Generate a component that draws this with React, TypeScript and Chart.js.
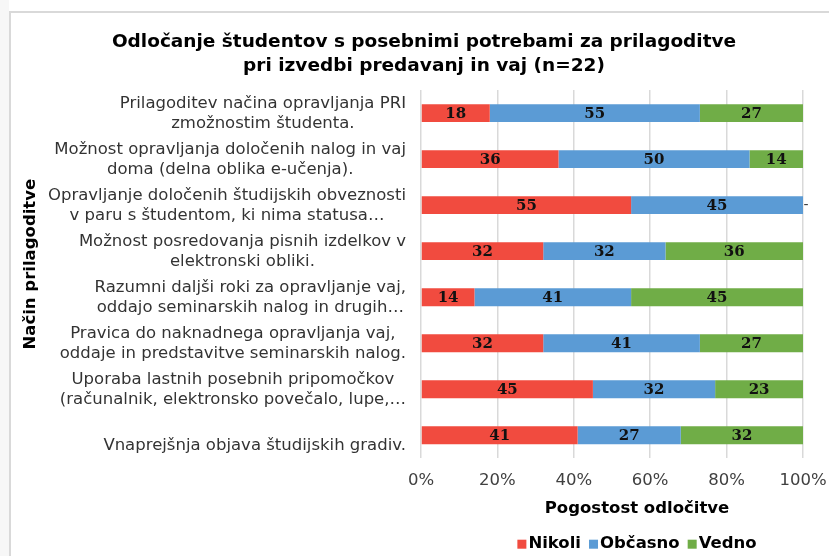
import React, { useEffect, useRef } from "react";
import { Chart, registerables } from "chart.js";

Chart.register(...registerables);

// ---------- data ----------
const titleLines = [
  "Odločanje študentov s posebnimi potrebami za prilagoditve",
  "pri izvedbi predavanj in vaj (n=22)",
];
const categories: string[][] = [
  ["Prilagoditev načina opravljanja PRI", "zmožnostim študenta."],
  ["Možnost opravljanja določenih nalog in vaj", "doma (delna oblika e-učenja)."],
  ["Opravljanje določenih študijskih obveznosti", "v paru s študentom, ki nima statusa…"],
  ["Možnost posredovanja pisnih izdelkov v", "elektronski obliki."],
  ["Razumni daljši roki za opravljanje vaj,", "oddajo seminarskih nalog in drugih…"],
  ["Pravica do naknadnega opravljanja vaj,", "oddaje in predstavitve seminarskih nalog."],
  ["Uporaba lastnih posebnih pripomočkov", "(računalnik, elektronsko povečalo, lupe,…"],
  ["", "Vnaprejšnja objava študijskih gradiv."],
];
const nikoli = [18, 36, 55, 32, 14, 32, 45, 41];
const obcasno = [55, 50, 45, 32, 41, 41, 32, 27];
const vedno = [27, 14, 0, 36, 45, 27, 23, 32];
const seriesNames = ["Nikoli", "Občasno", "Vedno"];
const seriesColors = ["#F14B3F", "#5B9BD5", "#70AD47"];
const xTickValues = [0, 20, 40, 60, 80, 100];
const xAxisTitle = "Pogostost odločitve";
const yAxisTitle = "Način prilagoditve";

const FONT = "'DejaVu Sans', Verdana, sans-serif";
const SERIF = "'DejaVu Serif', 'Liberation Serif', serif";

const customPlugin = {
  id: "customDraw",
  afterDraw(chart: any) {
    const ctx = chart.ctx as CanvasRenderingContext2D;
    const area = chart.chartArea;
    const yScale = chart.scales.y;
    ctx.save();

    // category labels (each block right-aligned, lines centred within the block)
    ctx.font = `16.5px ${FONT}`;
    ctx.fillStyle = "#333333";
    ctx.textBaseline = "middle";
    ctx.textAlign = "center";
    const rightEdge = area.left - 15;
    categories.forEach((lines, i) => {
      const cy = yScale.getPixelForValue(i) + 1;
      const w = Math.max(...lines.map((l) => ctx.measureText(l).width));
      const cx = rightEdge - w / 2;
      const lh = 20;
      lines.forEach((l, j) => {
        ctx.fillText(l, cx, cy + (j - (lines.length - 1) / 2) * lh);
      });
    });

    // data labels
    chart.data.datasets.forEach((ds: any, d: number) => {
      const meta = chart.getDatasetMeta(d);
      meta.data.forEach((el: any, i: number) => {
        const v = ds.data[i];
        const cx = (el.x + el.base) / 2;
        if (v === 0) {
          ctx.font = `14px ${FONT}`;
          ctx.fillStyle = "#404040";
          ctx.fillText("-", cx + 3, el.y);
        } else {
          ctx.font = `bold 15px ${SERIF}`;
          ctx.fillStyle = "#111111";
          ctx.fillText(String(v), cx, el.y + 1);
        }
      });
    });

    const midX = (area.left + area.right) / 2 + 25;

    // x axis title
    ctx.font = `bold 16.5px ${FONT}`;
    ctx.fillStyle = "#000";
    ctx.textAlign = "center";
    ctx.fillText(xAxisTitle, midX, area.bottom + 51);

    // y axis title
    ctx.save();
    ctx.translate(31, (area.top + area.bottom) / 2 - 10);
    ctx.rotate(-Math.PI / 2);
    ctx.fillText(yAxisTitle, 0, 0);
    ctx.restore();

    // legend
    ctx.font = `bold 16.5px ${FONT}`;
    const box = 9;
    const gap = 2;
    const itemGap = 8;
    const widths = seriesNames.map((n) => box + gap + ctx.measureText(n).width);
    const total = widths.reduce((a, b) => a + b, 0) + itemGap * (seriesNames.length - 1);
    let x = midX - total / 2;
    const ly = area.bottom + 85;
    ctx.textAlign = "left";
    seriesNames.forEach((n, i) => {
      ctx.fillStyle = seriesColors[i];
      ctx.fillRect(x, ly - box / 2 + 1, box, box);
      ctx.fillStyle = "#000";
      ctx.fillText(n, x + box + gap, ly + 1);
      x += widths[i] + itemGap;
    });

    ctx.restore();
  },
};

export default function App() {
  const ref = useRef<HTMLCanvasElement | null>(null);

  useEffect(() => {
    if (!ref.current) return;
    const chart = new Chart(ref.current, {
      type: "bar",
      data: {
        labels: categories.map((c) => c.join(" ")),
        datasets: [nikoli, obcasno, vedno].map((arr, i) => ({
          label: seriesNames[i],
          data: arr,
          backgroundColor: seriesColors[i],
          borderWidth: 0,
          barPercentage: 0.39,
          categoryPercentage: 1,
        })),
      },
      options: {
        indexAxis: "y",
        animation: false,
        responsive: false,
        maintainAspectRatio: false,
        layout: { padding: { left: 45, right: 26, top: 0, bottom: 52 } },
        plugins: {
          legend: { display: false },
          tooltip: { enabled: false },
          title: {
            display: true,
            text: titleLines,
            color: "#000",
            font: { family: FONT, size: 18.5, weight: "bold", lineHeight: 1.3 },
            padding: { top: 30, bottom: 12 },
          },
        },
        scales: {
          x: {
            stacked: true,
            min: 0,
            max: 100,
            afterBuildTicks: (scale: any) => {
              scale.ticks = xTickValues.map((v) => ({ value: v }));
            },
            afterFit: (scale: any) => {
              scale.paddingLeft = 0;
              scale.paddingRight = 0;
            },
            ticks: {
              callback: (v: any) => `${v}%`,
              color: "#404040",
              font: { family: FONT, size: 16.5 },
              padding: 13,
              maxRotation: 0,
            },
            grid: { color: "#d9d9d9", lineWidth: 1.5, drawTicks: false },
            border: { display: false },
          },
          y: {
            stacked: true,
            afterFit: (scale: any) => {
              scale.width = 376;
            },
            ticks: { display: false },
            grid: { display: false },
            border: { display: false },
          },
        },
      },
      plugins: [customPlugin],
    } as any);
    return () => chart.destroy();
  }, []);

  return (
    <div style={{ position: "absolute", left: 0, top: 0, width: 829, height: 556, background: "#fff", overflow: "hidden" }}>
      <div style={{ position: "absolute", left: 0, top: 0, width: 9, height: 556, background: "#f7f7f7" }} />
      <div
        style={{
          position: "absolute",
          left: 9,
          top: 11,
          width: 840,
          height: 560,
          borderLeft: "2px solid #d9d9d9",
          borderTop: "2px solid #d9d9d9",
          background: "#fff",
        }}
      />
      <canvas ref={ref} width={829} height={556} style={{ position: "absolute", left: 0, top: 0 }} />
    </div>
  );
}
